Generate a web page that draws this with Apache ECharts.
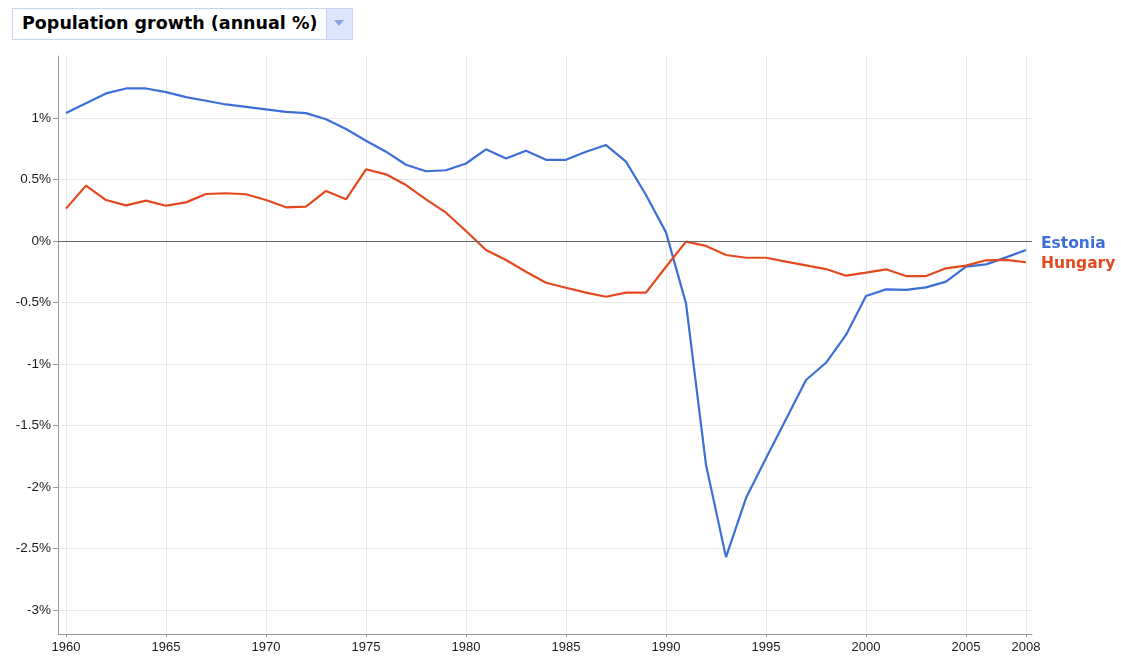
<!DOCTYPE html>
<html><head><meta charset="utf-8">
<script src="https://cdn.jsdelivr.net/npm/echarts@6/dist/echarts.min.js"></script>
<style>
html,body{margin:0;padding:0;background:#fff;}
#chart{position:absolute;left:0;top:0;width:1121px;height:657px;}
#sel{position:absolute;left:12px;top:8px;height:32px;width:315px;border:1px solid #c6d5f2;box-sizing:border-box;background:#fff;font-family:"DejaVu Sans";font-weight:bold;font-size:17.5px;line-height:29px;padding-left:9px;color:#000;white-space:nowrap;}
#btn{position:absolute;left:326px;top:8px;width:27px;height:32px;box-sizing:border-box;border:1px solid #c6d5f2;background:#dde7fb;}
#tri{position:absolute;left:7px;top:11px;width:0;height:0;border-left:5px solid transparent;border-right:5px solid transparent;border-top:6px solid #86a3e2;}
</style></head>
<body>
<div id="chart"></div>
<div id="sel">Population growth (annual %)</div>
<div id="btn"><div id="tri"></div></div>
<script>
const years = [1960,1961,1962,1963,1964,1965,1966,1967,1968,1969,1970,1971,1972,1973,1974,1975,1976,1977,1978,1979,1980,1981,1982,1983,1984,1985,1986,1987,1988,1989,1990,1991,1992,1993,1994,1995,1996,1997,1998,1999,2000,2001,2002,2003,2004,2005,2006,2007,2008];
const estonia = [1.04,1.12,1.20,1.24,1.24,1.21,1.17,1.14,1.11,1.09,1.07,1.05,1.04,0.99,0.91,0.815,0.726,0.62,0.567,0.575,0.63,0.745,0.67,0.734,0.66,0.66,0.726,0.78,0.645,0.374,0.07,-0.507,-1.82,-2.57,-2.09,-1.767,-1.45,-1.13,-0.99,-0.764,-0.447,-0.393,-0.398,-0.377,-0.33,-0.209,-0.19,-0.133,-0.073];
const hungary = [0.263,0.45,0.333,0.29,0.328,0.287,0.314,0.382,0.388,0.38,0.333,0.274,0.279,0.407,0.339,0.583,0.542,0.455,0.339,0.23,0.081,-0.073,-0.154,-0.25,-0.339,-0.38,-0.42,-0.453,-0.42,-0.42,-0.209,-0.005,-0.04,-0.114,-0.136,-0.136,-0.168,-0.198,-0.228,-0.282,-0.257,-0.23,-0.285,-0.285,-0.222,-0.2,-0.157,-0.154,-0.173];
const xTicks = [1960,1965,1970,1975,1980,1985,1990,1995,2000,2005,2008];
const yTicks = [-3,-2.5,-2,-1.5,-1,-0.5,0,0.5,1];
const seriesNames = ['Estonia','Hungary'];
const colors = ['#3d6fd8','#e2491f'];

const chart = echarts.init(document.getElementById('chart'), null, {renderer:'canvas'});
const labelFont = {fontFamily:'"Liberation Sans", Arial, sans-serif', color:'#1a1a1a'};
chart.setOption({
  animation:false,
  grid:{left:58, top:56, right:89, bottom:23, containLabel:false},
  xAxis:{
    type:'value', min:1959.6, max:2008.3,
    axisLine:{show:true, onZero:false, lineStyle:{color:'#9a9a9a', width:1}},
    axisTick:{show:true, customValues:xTicks, length:3, lineStyle:{color:'#9a9a9a'}},
    axisLabel:Object.assign({customValues:xTicks, margin:7, fontSize:13, formatter:v=>String(v)}, labelFont),
    splitLine:{show:true, lineStyle:{color:'#e8e8e8', width:1}}
  },
  yAxis:{
    type:'value', min:-3.195, max:1.504,
    axisLine:{show:true, lineStyle:{color:'#9a9a9a', width:1}},
    axisTick:{show:true, customValues:yTicks, length:5, lineStyle:{color:'#9a9a9a'}},
    axisLabel:Object.assign({customValues:yTicks, margin:7, fontSize:13.5, formatter:v=>v+'%'}, labelFont),
    splitLine:{show:true, lineStyle:{color:'#e8e8e8', width:1}}
  },
  series:[
    {
      name:seriesNames[0], type:'line', z:3, symbol:'none', showSymbol:false,
      data:years.map((y,i)=>[y, estonia[i]]),
      lineStyle:{color:colors[0], width:2.2}, itemStyle:{color:colors[0]},
      endLabel:{show:true, formatter:'{a}', color:colors[0], fontFamily:'"DejaVu Sans", sans-serif', fontWeight:'bold', fontSize:15.5, distance:0, offset:[15,-6]}
    },
    {
      name:seriesNames[1], type:'line', z:3, symbol:'none', showSymbol:false,
      data:years.map((y,i)=>[y, hungary[i]]),
      lineStyle:{color:colors[1], width:2.2}, itemStyle:{color:colors[1]},
      endLabel:{show:true, formatter:'{a}', color:colors[1], fontFamily:'"DejaVu Sans", sans-serif', fontWeight:'bold', fontSize:15.5, distance:0, offset:[15,1.5]}
    },
    {
      name:'zero', type:'line', z:2, data:[], silent:true,
      markLine:{silent:true, symbol:'none', label:{show:false}, lineStyle:{color:'#666', width:1, type:'solid'}, data:[{yAxis:0}]}
    }
  ]
});
</script>
</body></html>
